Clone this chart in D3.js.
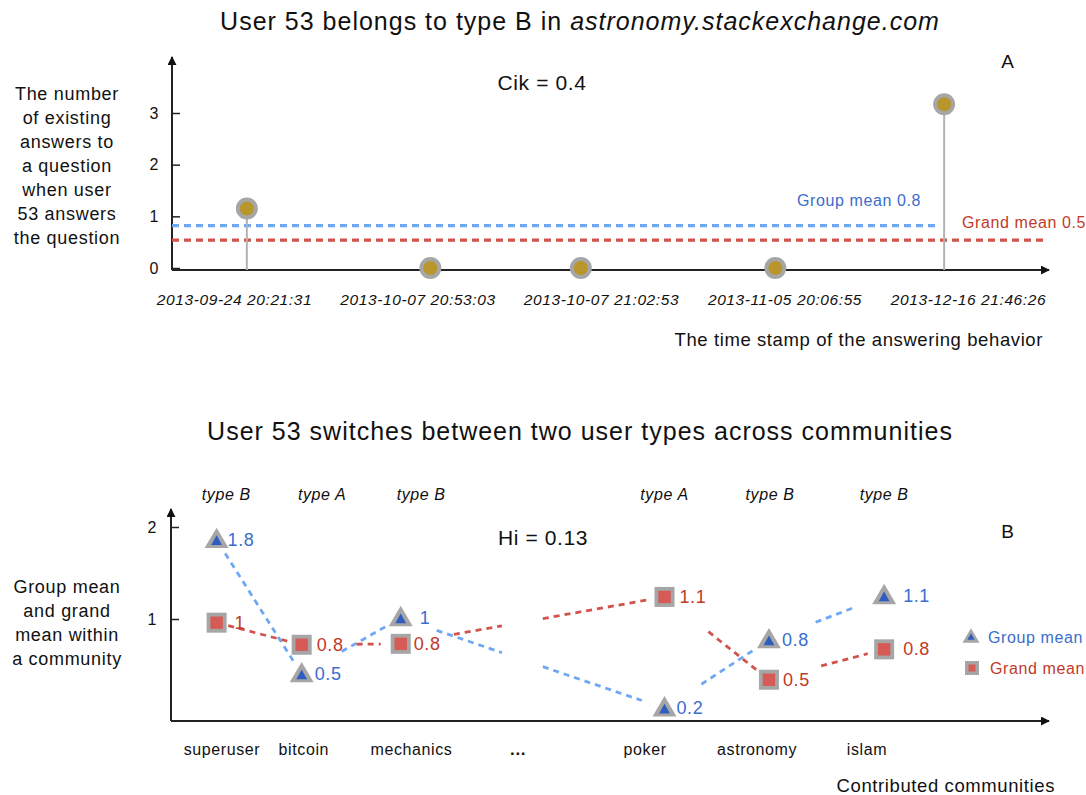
<!DOCTYPE html>
<html><head><meta charset="utf-8">
<script src="https://cdn.jsdelivr.net/npm/d3@7"></script>
<style>
body{margin:0;background:#fff;}
svg text{font-family:"Liberation Sans",Arial,sans-serif;letter-spacing:0.6px;}
</style></head>
<body><svg id="c" width="1086" height="795"></svg>
<script>
// ---------- Panel A data ----------
const timeLabels = ["2013-09-24 20:21:31","2013-10-07 20:53:03","2013-10-07 21:02:53","2013-11-05 20:06:55","2013-12-16 21:46:26"];
const answerPos = [0.07, 1.07, 1.89, 2.95, 3.87];          // where each point sits along the time axis (label index units)
const answerCounts = [1.15, 0, 0, 0, 3.17];                 // heights as drawn
const topYTicks = [0, 1, 2, 3];
const groupMeanA = 0.82, grandMeanA = 0.54;
const groupMeanALabel = "Group mean 0.8", grandMeanALabel = "Grand mean 0.5";

// ---------- Panel B data ----------
const communities = ["superuser","bitcoin","mechanics","...","poker","astronomy","islam"];
const communityLabelPos = [0, 0.76, 1.76, 2.75, 3.93, 4.97, 5.99];
const userTypes = ["type B","type A","type B",null,"type A","type B","type B"];
const typeLabelPos = [0.04, 0.93, 1.85, null, 4.11, 5.09, 6.15];
const markerPos = [-0.05, 0.74, 1.66, null, 4.11, 5.08, 6.15];
const groupMeanPlot = [1.86, 0.40, 1.01, null, 0.03, 0.77, 1.25];
const grandMeanPlot = [0.96, 0.72, 0.73, null, 1.24, 0.34, 0.67];
const groupMeanText = ["1.8","0.5","1",null,"0.2","0.8","1.1"];
const grandMeanText = ["1","0.8","0.8",null,"1.1","0.5","0.8"];
const botYTicks = [1, 2];

const C = {blueLine:"#6fa8f2", blueText:"#3b6dcc", blueFill:"#2e5cbf", redLine:"#d0544c", redText:"#bf3a2a", redFill:"#d65a55", gray:"#a6a6a6", gold:"#b9962b", axis:"#222"};

const svg = d3.select("#c");
const defs = svg.append("defs");
defs.append("marker").attr("id","arr").attr("viewBox","0 0 10 10").attr("refX",9).attr("refY",5)
  .attr("markerWidth",9).attr("markerHeight",9).attr("markerUnits","userSpaceOnUse").attr("orient","auto")
  .append("path").attr("d","M0,0 L10,5 L0,10 Z").attr("fill","#111");

function multiline(g, lines, x, y0, dy, size){
  const t = g.append("text").attr("text-anchor","middle").attr("font-size",size).attr("fill","#111").style("letter-spacing","0.7px");
  lines.forEach((l,i)=>t.append("tspan").attr("x",x).attr("y",y0+i*dy).text(l));
}

// ================= PANEL A =================
const gA = svg.append("g");
const xA = d3.scaleLinear().domain([0,4]).range([234,968]);
const yA = d3.scaleLinear().domain([0,3]).range([268,113]);
const axisYA = 270, axisXA = 172;

gA.append("text").attr("x",580).attr("y",30).attr("text-anchor","middle").attr("font-size",25).attr("fill","#111").style("letter-spacing","1px")
  .call(t=>{t.append("tspan").text("User 53 belongs to type B in ");t.append("tspan").attr("font-style","italic").text("astronomy.stackexchange.com");});
gA.append("text").attr("x",542).attr("y",90).attr("text-anchor","middle").attr("font-size",21).attr("fill","#111").text("Cik = 0.4");
gA.append("text").attr("x",1008).attr("y",68).attr("text-anchor","middle").attr("font-size",19).attr("fill","#111").text("A");
multiline(gA, ["The number","of existing","answers to","a question","when user","53 answers","the question"], 67, 100, 24, 18);

// y axis
const yAxA = d3.axisLeft(yA).tickValues(topYTicks).tickSize(-8).tickPadding(13).tickFormat(d3.format("d"));
const gyA = gA.append("g").attr("transform",`translate(${axisXA},0)`).call(yAxA);
gyA.select(".domain").remove();
gyA.selectAll("text").attr("font-size",16).attr("fill","#111");
gyA.selectAll("line").attr("stroke",C.axis).attr("stroke-width",1.5);
gA.append("line").attr("x1",axisXA).attr("x2",axisXA).attr("y1",axisYA).attr("y2",57).attr("stroke",C.axis).attr("stroke-width",2).attr("marker-end","url(#arr)");
gA.append("line").attr("x1",axisXA).attr("x2",1049).attr("y1",axisYA).attr("y2",axisYA).attr("stroke",C.axis).attr("stroke-width",2).attr("marker-end","url(#arr)");

// x labels
const xAxA = d3.axisBottom(xA).tickValues(d3.range(timeLabels.length)).tickSize(0).tickPadding(24).tickFormat(i=>timeLabels[i]);
const gxA = gA.append("g").attr("transform",`translate(0,${axisYA})`).call(xAxA);
gxA.select(".domain").remove();
gxA.selectAll("text").attr("font-size",15.5).attr("font-style","italic").attr("fill","#111").attr("font-family","Liberation Sans, Arial, sans-serif");
gA.append("text").attr("x",1043).attr("y",346).attr("text-anchor","end").attr("font-size",18.5).attr("fill","#111").text("The time stamp of the answering behavior");

// mean lines
gA.append("line").attr("x1",axisXA).attr("x2",xA(3.87)-4).attr("y1",yA(groupMeanA)).attr("y2",yA(groupMeanA))
  .attr("stroke",C.blueLine).attr("stroke-width",3.2).attr("stroke-dasharray","7,5");
gA.append("line").attr("x1",axisXA).attr("x2",1047).attr("y1",yA(grandMeanA)).attr("y2",yA(grandMeanA))
  .attr("stroke",C.redLine).attr("stroke-width",3.2).attr("stroke-dasharray","7,5");
gA.append("text").attr("x",859).attr("y",yA(groupMeanA)-20).attr("text-anchor","middle").attr("font-size",16).attr("fill",C.blueText).text(groupMeanALabel);
gA.append("text").attr("x",1024).attr("y",yA(grandMeanA)-12).attr("text-anchor","middle").attr("font-size",16).attr("fill",C.redText).text(grandMeanALabel);

// stems + points
const ptsA = answerCounts.map((v,i)=>({x:xA(answerPos[i]), y:yA(v), v}));
gA.selectAll(".stem").data(ptsA.filter(p=>p.v>0.01)).join("line").attr("x1",d=>d.x).attr("x2",d=>d.x)
  .attr("y1",d=>d.y).attr("y2",axisYA).attr("stroke","#b3b3b3").attr("stroke-width",2);
gA.selectAll(".pt").data(ptsA).join("circle").attr("cx",d=>d.x).attr("cy",d=>d.y).attr("r",9)
  .attr("fill",C.gold).attr("stroke",C.gray).attr("stroke-width",4);

// ================= PANEL B =================
const gB = svg.append("g");
const xB = d3.scaleLinear().domain([0,6]).range([222,868]);
const yB = d3.scaleLinear().domain([0,2]).range([711,527]);
const axisYB = 721, axisXB = 171;

gB.append("text").attr("x",580).attr("y",440).attr("text-anchor","middle").attr("font-size",25).attr("fill","#111").style("letter-spacing","1px").text("User 53 switches between two user types across communities");
gB.append("text").attr("x",543).attr("y",545).attr("text-anchor","middle").attr("font-size",21).attr("fill","#111").text("Hi = 0.13");
gB.append("text").attr("x",1008).attr("y",538).attr("text-anchor","middle").attr("font-size",19).attr("fill","#111").text("B");
multiline(gB, ["Group mean","and grand","mean within","a community"], 67, 593, 24, 18);

const yAxB = d3.axisLeft(yB).tickValues(botYTicks).tickSize(-8).tickPadding(14).tickFormat(d3.format("d"));
const gyB = gB.append("g").attr("transform",`translate(${axisXB},0)`).call(yAxB);
gyB.select(".domain").remove();
gyB.selectAll("text").attr("font-size",16).attr("fill","#111");
gyB.selectAll("line").attr("stroke",C.axis).attr("stroke-width",1.5);
gB.append("line").attr("x1",axisXB).attr("x2",axisXB).attr("y1",axisYB).attr("y2",509).attr("stroke",C.axis).attr("stroke-width",2).attr("marker-end","url(#arr)");
gB.append("line").attr("x1",axisXB).attr("x2",1049).attr("y1",axisYB).attr("y2",axisYB).attr("stroke",C.axis).attr("stroke-width",2).attr("marker-end","url(#arr)");

// community labels
gB.selectAll(".comm").data(communities).join("text")
  .attr("x",(d,i)=>xB(communityLabelPos[i])).attr("y",axisYB+34).attr("text-anchor","middle")
  .attr("font-size",d=>d==="..."?17:16).attr("font-weight",d=>d==="..."?"bold":"normal").attr("fill","#111").text(d=>d);
gB.append("text").attr("x",1055).attr("y",792).attr("text-anchor","end").attr("font-size",18.5).attr("fill","#111").text("Contributed communities");
gB.selectAll(".typ").data(userTypes.map((t,i)=>({t,p:typeLabelPos[i]})).filter(d=>d.t)).join("text")
  .attr("x",d=>xB(d.p)).attr("y",500).attr("text-anchor","middle").attr("font-size",16).attr("font-style","italic").attr("fill","#111").text(d=>d.t);

// connecting dashed segments with gaps near markers
function segs(vals, gapA, gapB){
  const out=[];
  const idx = vals.map((v,i)=>v==null?null:i).filter(i=>i!==null);
  for(let k=0;k<idx.length-1;k++){
    const i=idx[k], j=idx[k+1];
    const x1=xB(markerPos[i]), y1=yB(vals[i]), x2=xB(markerPos[j]), y2=yB(vals[j]);
    const L=Math.hypot(x2-x1,y2-y1), ux=(x2-x1)/L, uy=(y2-y1)/L;
    const s = gapA[k], e = gapB[k];
    if(communities[i+1]==="..."){
      const xm1 = xB(2.6), xm2 = xB(2.98);
      const f1 = (xm1-x1)/(x2-x1), f2=(xm2-x1)/(x2-x1);
      out.push({x1:x1+ux*s,y1:y1+uy*s,x2:x1+(x2-x1)*f1,y2:y1+(y2-y1)*f1});
      out.push({x1:x1+(x2-x1)*f2,y1:y1+(y2-y1)*f2,x2:x2-ux*e,y2:y2-uy*e});
    } else out.push({x1:x1+ux*s,y1:y1+uy*s,x2:x2-ux*e,y2:y2-uy*e});
  }
  return out;
}
const blueSegs = segs(groupMeanPlot,[16,46,38,44,50],[16,16,24,16,34]);
const redSegs  = segs(grandMeanPlot,[12,55,54,56,54],[14,20,16,14,17]);
gB.selectAll(".bs").data(blueSegs).join("line").attr("x1",d=>d.x1).attr("y1",d=>d.y1).attr("x2",d=>d.x2).attr("y2",d=>d.y2)
  .attr("stroke",C.blueLine).attr("stroke-width",2.8).attr("stroke-dasharray","6,5");
gB.selectAll(".rs").data(redSegs).join("line").attr("x1",d=>d.x1).attr("y1",d=>d.y1).attr("x2",d=>d.x2).attr("y2",d=>d.y2)
  .attr("stroke",C.redLine).attr("stroke-width",2.8).attr("stroke-dasharray","6,5");

function tri(g,x,y,w,inner){
  const h = w*0.85;
  g.append("path").attr("d",`M${x},${y-h*0.6} L${x+w/2},${y+h*0.4} L${x-w/2},${y+h*0.4} Z`).attr("fill",C.gray);
  const wi=w*inner, hi=wi*0.9;
  g.append("path").attr("d",`M${x},${y+h*0.4-3-hi} L${x+wi/2},${y+h*0.4-3} L${x-wi/2},${y+h*0.4-3} Z`).attr("fill",C.blueFill);
}
function sq(g,x,y,w,inner){
  g.append("rect").attr("x",x-w/2).attr("y",y-w/2).attr("width",w).attr("height",w).attr("fill",C.gray);
  const wi=w*inner;
  g.append("rect").attr("x",x-wi/2).attr("y",y-wi/2).attr("width",wi).attr("height",wi).attr("fill",C.redFill);
}
const gM = gB.append("g");
communities.forEach((c,i)=>{
  if(markerPos[i]==null) return;
  const x=xB(markerPos[i]);
  sq(gM,x,yB(grandMeanPlot[i]),20,0.62);
  tri(gM,x,yB(groupMeanPlot[i]),24,0.45);
});
const labOffB = [11,13,19,null,12,13,19];
const labOffR = [18,15,13,null,15,14,19];
gB.selectAll(".gl").data(communities.map((c,i)=>i).filter(i=>markerPos[i]!=null)).join("text")
  .attr("x",i=>xB(markerPos[i])+labOffB[i]).attr("y",i=>yB(groupMeanPlot[i])+6).attr("font-size",18).attr("fill",C.blueText).text(i=>groupMeanText[i]);
gB.selectAll(".rl").data(communities.map((c,i)=>i).filter(i=>markerPos[i]!=null)).join("text")
  .attr("x",i=>xB(markerPos[i])+labOffR[i]).attr("y",i=>yB(grandMeanPlot[i])+6).attr("font-size",18).attr("fill",C.redText).text(i=>grandMeanText[i]);

// legend
const gL = gB.append("g");
tri(gL,971,637,17,0.42);
sq(gL,972,668,14,0.5);
gL.append("text").attr("x",988).attr("y",643).attr("font-size",16).attr("fill",C.blueText).text("Group mean");
gL.append("text").attr("x",990).attr("y",674).attr("font-size",16).attr("fill",C.redText).text("Grand mean");
</script></body></html>
